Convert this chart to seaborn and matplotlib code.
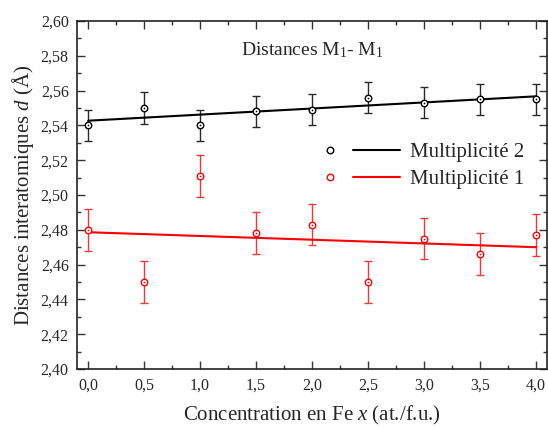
import numpy as np
import pandas as pd
import matplotlib
matplotlib.use("Agg")
import matplotlib.pyplot as plt
import seaborn as sns
from matplotlib.legend_handler import HandlerTuple
from matplotlib.lines import Line2D
from matplotlib.ticker import MultipleLocator, FuncFormatter

# ---- data ----
conc = [0.0, 0.5, 1.0, 1.5, 2.0, 2.5, 3.0, 3.5, 4.0]
mult2 = [2.540, 2.550, 2.540, 2.548, 2.549, 2.556, 2.553, 2.555, 2.555]
mult2_err = [0.009, 0.009, 0.009, 0.009, 0.009, 0.009, 0.009, 0.009, 0.009]
mult1 = [2.480, 2.450, 2.511, 2.478, 2.483, 2.450, 2.475, 2.466, 2.477]
mult1_err = [0.012, 0.012, 0.012, 0.012, 0.012, 0.012, 0.012, 0.012, 0.012]
fit2_ends = [2.5427, 2.5567]
fit1_ends = [2.4786, 2.4700]
fit_x = [0.0, 4.0]

sns.set_theme(style="ticks")
plt.rcParams["font.family"] = ["Liberation Serif", "DejaVu Serif"]
plt.rcParams["mathtext.fontset"] = "custom"
plt.rcParams["mathtext.rm"] = "Liberation Serif"
plt.rcParams["mathtext.it"] = "Liberation Serif:italic"

fig = plt.figure(figsize=(5.48, 4.29), dpi=100)
ax = fig.add_axes([77/548, 1-369/429, 470/548, 348/429])

df2 = pd.DataFrame({"x": conc, "y": mult2})
df1 = pd.DataFrame({"x": conc, "y": mult1})
fit2 = pd.DataFrame({"x": fit_x, "y": fit2_ends})
fit1 = pd.DataFrame({"x": fit_x, "y": fit1_ends})

ax.errorbar(conc, mult2, yerr=mult2_err, fmt="none", ecolor="#2a2a2a",
            elinewidth=1.0, capsize=2.8, capthick=1.0, zorder=2)
ax.errorbar(conc, mult1, yerr=mult1_err, fmt="none", ecolor="#f03a3a",
            elinewidth=1.0, capsize=2.8, capthick=1.0, zorder=2)

sns.lineplot(data=fit2, x="x", y="y", ax=ax, color="black", lw=1.5, zorder=3)
sns.lineplot(data=fit1, x="x", y="y", ax=ax, color="red", lw=1.5, zorder=3)

for d, c in ((df2, "black"), (df1, "red")):
    sns.scatterplot(data=d, x="x", y="y", ax=ax, marker="o", s=22,
                    facecolor="white", edgecolor=c, linewidth=1.0, zorder=4)
    sns.scatterplot(data=d, x="x", y="y", ax=ax, marker="o", s=1.5,
                    color=c, edgecolor=c, linewidth=0, zorder=5)

ax.set_xlim(-0.1, 4.1)
ax.set_ylim(2.40, 2.60)
ax.xaxis.set_major_locator(MultipleLocator(0.5))
ax.xaxis.set_minor_locator(MultipleLocator(0.25))
ax.yaxis.set_major_locator(MultipleLocator(0.02))
ax.yaxis.set_minor_locator(MultipleLocator(0.01))
ax.xaxis.set_major_formatter(FuncFormatter(lambda v, p: f"{v:.1f}".replace(".", ",")))
ax.yaxis.set_major_formatter(FuncFormatter(lambda v, p: f"{v:.2f}".replace(".", ",")))
ax.tick_params(which="both", direction="in", top=True, right=True, color="#333333", width=1.0)
ax.tick_params(which="major", length=6, labelsize=11.5, pad=6)
ax.tick_params(which="minor", length=3)
for s in ax.spines.values():
    s.set_linewidth(1.2)
    s.set_color("#222222")

ax.set_xlabel("Concentration en Fe $\\mathit{x}$ (at./f.u.)", fontsize=15, labelpad=8)
ax.set_ylabel("Distances interatomiques $\\mathit{d}$ (Å)", fontsize=15, labelpad=3)
ax.text(0.5, 0.915, "Distances M$_\\mathrm{1}$- M$_\\mathrm{1}$", transform=ax.transAxes,
        ha="center", va="center", fontsize=14)

m2 = Line2D([], [], marker="o", ls="none", mfc="white", mec="black", ms=4.7, mew=1.0)
m1 = Line2D([], [], marker="o", ls="none", mfc="white", mec="red", ms=4.7, mew=1.0)
l2 = Line2D([], [], color="black", lw=1.5)
l1 = Line2D([], [], color="red", lw=1.5)
ax.legend([(m2, l2), (m1, l1)], ["Multiplicité 2", "Multiplicité 1"],
          handler_map={tuple: HandlerTuple(ndivide=2, pad=0.0)},
          loc="upper left", bbox_to_anchor=(0.488, 0.651), frameon=False,
          borderaxespad=0, borderpad=0,
          fontsize=15, handlelength=4.5, handletextpad=0.48, labelspacing=0.35)

fig.savefig("out.png", dpi=100)
